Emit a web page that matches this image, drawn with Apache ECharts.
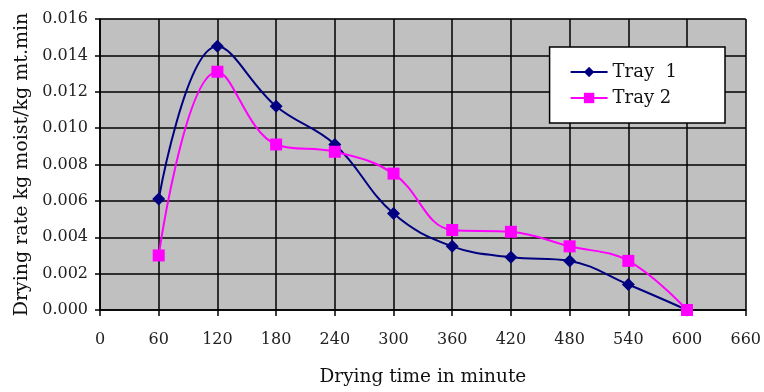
<!DOCTYPE html>
<html><head><meta charset="utf-8">
<script src="https://cdn.jsdelivr.net/npm/echarts@6/dist/echarts.min.js"></script>
<style>html,body{margin:0;padding:0;background:#fff}#c{width:764px;height:392px}</style>
</head><body><div id="c"></div>
<script>
const times = [60, 120, 180, 240, 300, 360, 420, 480, 540, 600];
const tray1 = [0.0061, 0.0145, 0.0112, 0.0091, 0.0053, 0.0035, 0.0029, 0.0027, 0.0014, 0.0000];
const tray2 = [0.0030, 0.0131, 0.0091, 0.0087, 0.0075, 0.0044, 0.0043, 0.0035, 0.0027, 0.0000];
const seriesNames = ['Tray  1', 'Tray 2'];

const font = 'DejaVu Serif';
const chart = echarts.init(document.getElementById('c'));
chart.setOption({
  animation: false,
  grid: {left: 100, right: 18, top: 19, bottom: 82, show: true, backgroundColor: '#C0C0C0', borderColor: '#9a9a9a', borderWidth: 1},
  legend: {
    right: 39, top: 47, orient: 'vertical', backgroundColor: '#fff', borderColor: '#000', borderWidth: 1.5,
    padding: [15, 48, 15, 20], itemGap: 6, itemWidth: 37, itemHeight: 13,
    textStyle: {fontFamily: font, fontSize: 18, lineHeight: 20, color: '#111'},
    data: seriesNames
  },
  xAxis: {
    type: 'value', min: 0, max: 660, interval: 60,
    name: 'Drying time in minute', nameLocation: 'middle', nameGap: 58,
    nameTextStyle: {fontFamily: font, fontSize: 18.5, color: '#111'},
    axisLine: {show: true, lineStyle: {color: '#000', width: 1.5}},
    axisTick: {show: true, length: 6, lineStyle: {color: '#000', width: 1.5}},
    axisLabel: {fontFamily: font, fontSize: 16, color: '#222', margin: 22},
    splitLine: {show: true, lineStyle: {color: '#000', width: 1.5}}
  },
  yAxis: {
    type: 'value', min: 0, max: 0.016, interval: 0.002,
    name: 'Drying rate kg moist/kg mt.min', nameLocation: 'middle', nameGap: 65,
    nameTextStyle: {fontFamily: font, fontSize: 19, color: '#111'},
    axisLine: {show: true, lineStyle: {color: '#000', width: 1.5}},
    axisTick: {show: true, length: 5, lineStyle: {color: '#000', width: 1.5}},
    axisLabel: {fontFamily: font, fontSize: 16, color: '#222', margin: 12, formatter: v => v.toFixed(3)},
    splitLine: {show: true, lineStyle: {color: '#000', width: 1.5}}
  },
  series: [
    {name: seriesNames[0], type: 'line', smooth: 0.4, data: times.map((t, i) => [t, tray1[i]]),
     symbol: 'diamond', symbolSize: 13, itemStyle: {color: '#000080'}, lineStyle: {color: '#000080', width: 2}},
    {name: seriesNames[1], type: 'line', smooth: 0.4, data: times.map((t, i) => [t, tray2[i]]),
     symbol: 'rect', symbolSize: 12, itemStyle: {color: '#FF00FF'}, lineStyle: {color: '#FF00FF', width: 2}}
  ]
});
</script></body></html>
